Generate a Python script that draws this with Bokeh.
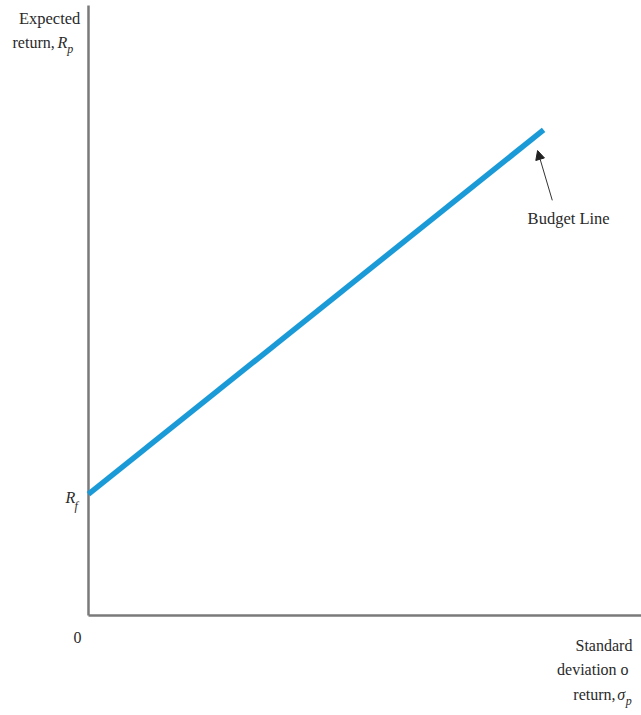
from bokeh.plotting import figure
from bokeh.models import Label, Arrow, NormalHead, Range1d
from bokeh.embed import file_html
from bokeh.resources import INLINE

# Data: budget line (standard deviation of return vs expected return)
sigma_points = [0.0, 8.35]
return_points = [2.0, 8.0]
risk_free = 2.0

# axis extents (data units)
x_axis_end = 10.15
y_axis_end = 10.05

FONT = "Liberation Serif"
TXT = "#2a2a2a"
AXC = "#7a7a7a"

p = figure(width=641, height=715,
           x_range=Range1d(-1.6147, 10.147), y_range=Range1d(-1.647, 10.132),
           output_backend="svg", toolbar_location=None,
           min_border=0, min_border_left=0, min_border_right=0,
           min_border_top=0, min_border_bottom=0)
p.outline_line_color = None
p.grid.visible = False
p.axis.visible = False
p.background_fill_color = "white"
p.border_fill_color = "white"

# axis lines
p.line([0, 0], [0, y_axis_end], line_color=AXC, line_width=2.5)
p.line([0, x_axis_end], [0, 0], line_color=AXC, line_width=2.5)

# budget line
p.line(sigma_points, return_points, line_color="#1b9ad8", line_width=5.5)

p.add_layout(Arrow(end=NormalHead(size=9, fill_color="#222222", line_color="#222222"),
                   x_start=8.51, y_start=6.84, x_end=8.24, y_end=7.66,
                   line_color="#333333", line_width=1))

def lab(x, y, text, align="left", size="16px", style="normal"):
    p.add_layout(Label(x=x, y=y, text=text, text_align=align, text_baseline="middle",
                       text_font=FONT, text_font_size=size, text_font_style=style,
                       text_color=TXT))

lab(8.81, 6.54, "Budget Line", align="center", size="16.5px")

# y-axis label
lab(-0.15, 9.84, "Expected", align="right", size="16.5px")
lab(-0.62, 9.44, "return,", align="right")
lab(-0.57, 9.44, "R", style="italic")
lab(-0.39, 9.34, "p", size="12px", style="italic")

# risk-free label
lab(-0.42, risk_free - 0.05, "R", style="italic")
lab(-0.255, risk_free - 0.19, "f", size="12px", style="italic")

# origin
lab(-0.2, -0.36, "0", align="center")

# x-axis label
lab(9.98, -0.49, "Standard", align="right")
lab(9.91, -0.89, "deviation o", align="right")
lab(9.67, -1.30, "return,", align="right")
lab(9.70, -1.30, "σ", style="italic")
lab(9.86, -1.40, "p", size="12px", style="italic")

open("out.html", "w").write(file_html(p, INLINE))
